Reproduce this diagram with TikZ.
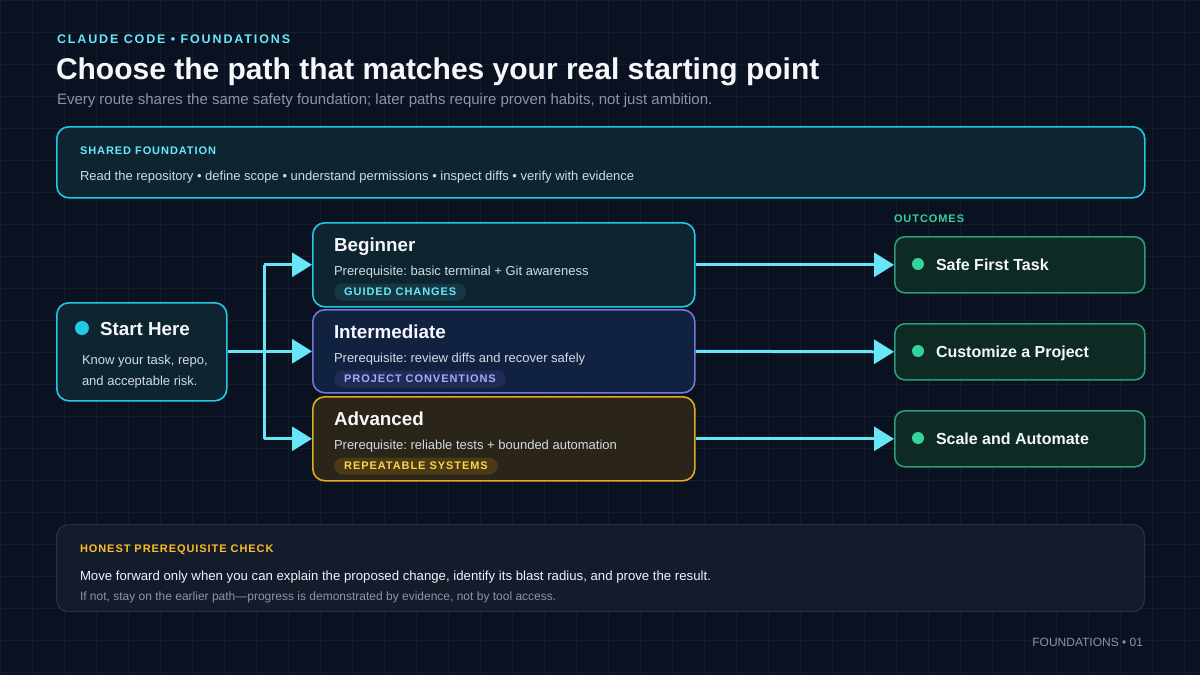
\documentclass[tikz,border=0pt]{standalone}
\usepackage{fontspec}
\setmainfont{Liberation Sans}
\newfontfamily\lsfont[LetterSpace=8.5]{Liberation Sans}
\newfontfamily\kickfont[LetterSpace=15]{Liberation Sans}
\usetikzlibrary{arrows.meta}
\frenchspacing
\definecolor{bg}{HTML}{0A1120}
\definecolor{gridc}{HTML}{141D2C}
\definecolor{cyantext}{HTML}{67E8F9}
\definecolor{cyanborder}{HTML}{22C9E2}
\definecolor{arrowc}{HTML}{67E6F8}
\definecolor{cyanfill}{HTML}{0E2431}
\definecolor{indigoborder}{HTML}{7078DC}
\definecolor{indigofill}{HTML}{112240}
\definecolor{indigopill}{HTML}{222B58}
\definecolor{indigotext}{HTML}{A5ACF7}
\definecolor{amberborder}{HTML}{E3AA22}
\definecolor{amberfill}{HTML}{2B2419}
\definecolor{amberpill}{HTML}{4A3B16}
\definecolor{ambertext}{HTML}{FCD34D}
\definecolor{amberlabel}{HTML}{FBBF24}
\definecolor{cyanpill}{HTML}{163844}
\definecolor{greenborder}{HTML}{2A9D74}
\definecolor{greenfill}{HTML}{0D2A25}
\definecolor{greendot}{HTML}{34D399}
\definecolor{whitetext}{HTML}{F5F7FA}
\definecolor{bodytext}{HTML}{D3DAE3}
\definecolor{greytext}{HTML}{8A96A8}
\definecolor{checkfill}{HTML}{141B2A}
\definecolor{checkborder}{HTML}{263144}
\tikzset{
  box/.style={draw, line width=1.6pt, rounded corners=12pt, anchor=north west, inner sep=0pt},
  txt/.style={anchor=base west, inner sep=0pt, outer sep=0pt},
  body/.style={txt, text=bodytext, font=\fontsize{13}{15}\selectfont},
  head/.style={txt, text=whitetext, font=\fontsize{18.8}{22}\selectfont\bfseries},
  outtxt/.style={txt, text=whitetext, font=\fontsize{16}{18}\selectfont\bfseries},
  lbl/.style={txt, font=\fontsize{11}{13}\lsfont\bfseries},
  pill/.style={anchor=west, rounded corners=8.5pt, inner xsep=10pt, minimum height=17pt, inner ysep=0pt, font=\fontsize{11}{13}\lsfont\bfseries},
  dot/.style={circle, inner sep=0pt, minimum size=#1},
  cline/.style={draw=arrowc, line width=3pt},
  conn/.style={cline, -{Triangle[length=20pt,width=24pt]}},
}
\begin{document}
\begin{tikzpicture}[x=1pt,y=-1pt]
\fill[bg] (0,0) rectangle (1200,675);
\useasboundingbox (0,0) rectangle (1200,675);
\foreach \x in {0,32,...,1199} \draw[gridc, line width=0.8pt] (\x,0) -- (\x,675);
\foreach \y in {0,32,...,674} \draw[gridc, line width=0.8pt] (0,\y) -- (1200,\y);

% header
\node[txt, text=cyantext, font=\fontsize{12.5}{14}\kickfont\bfseries] (kicker) at (57,43) {CLAUDE CODE • FOUNDATIONS};
\node[txt, text=whitetext, font=\fontsize{30}{34}\selectfont\bfseries] (title) at (56,79) {Choose the path that matches your real starting point};
\node[txt, text=greytext, font=\fontsize{15}{17}\selectfont] (subtitle) at (57,104) {Every route shares the same safety foundation; later paths require proven habits, not just ambition.};

% shared foundation
\node[box, draw=cyanborder, fill=cyanfill, minimum width=1088pt, minimum height=71pt] (shared) at (56,126) {};
\node[lbl, text=cyantext] (sharedlbl) at (80,154) {SHARED FOUNDATION};
\node[body] (sharedtxt) at (80,180) {Read the repository • define scope • understand permissions • inspect diffs • verify with evidence};

% start
\node[box, draw=cyanborder, fill=cyanfill, minimum width=170pt, minimum height=98pt] (start) at (56,302) {};
\node[dot=14pt, fill=cyanborder] (startdot) at (82,328) {};
\node[head] (starthead) at (100,335) {Start Here};
\node[body] (startl1) at (82,364) {Know your task, repo,};
\node[body] (startl2) at (82,385) {and acceptable risk.};

% paths
\node[box, draw=cyanborder, fill=cyanfill, minimum width=382pt, minimum height=84pt] (beg) at (312,222) {};
\node[head] (beghead) at (334,251) {Beginner};
\node[body] (begtxt) at (334,275) {Prerequisite: basic terminal + Git awareness};
\node[pill, fill=cyanpill, text=cyantext] (begpill) at (334,292) {GUIDED CHANGES\hspace{-9pt}};

\node[box, draw=indigoborder, fill=indigofill, minimum width=382pt, minimum height=83pt] (int) at (312,309) {};
\node[head] (inthead) at (334,338) {Intermediate};
\node[body] (inttxt) at (334,362) {Prerequisite: review diffs and recover safely};
\node[pill, fill=indigopill, text=indigotext] (intpill) at (334,379) {PROJECT CONVENTIONS\hspace{-9pt}};

\node[box, draw=amberborder, fill=amberfill, minimum width=382pt, minimum height=84pt] (adv) at (312,396) {};
\node[head] (advhead) at (334,425) {Advanced};
\node[body] (advtxt) at (334,449) {Prerequisite: reliable tests + bounded automation};
\node[pill, fill=amberpill, text=ambertext] (advpill) at (334,466) {REPEATABLE SYSTEMS\hspace{-9pt}};

% outcomes
\node[lbl, text=greendot] (outlbl) at (894,222) {OUTCOMES};
\node[box, draw=greenborder, fill=greenfill, minimum width=250pt, minimum height=56pt, rounded corners=10pt] (o1) at (894,236) {};
\node[dot=12pt, fill=greendot] (o1dot) at (918,264) {};
\node[outtxt] (o1txt) at (936,270) {Safe First Task};
\node[box, draw=greenborder, fill=greenfill, minimum width=250pt, minimum height=56pt, rounded corners=10pt] (o2) at (894,323) {};
\node[dot=12pt, fill=greendot] (o2dot) at (918,351) {};
\node[outtxt] (o2txt) at (936,357) {Customize a Project};
\node[box, draw=greenborder, fill=greenfill, minimum width=250pt, minimum height=56pt, rounded corners=10pt] (o3) at (894,410) {};
\node[dot=12pt, fill=greendot] (o3dot) at (918,438) {};
\node[outtxt] (o3txt) at (936,444) {Scale and Automate};

% connectors
\coordinate (j) at (264,0);
\draw[cline] (beg.west -| j) -- (adv.west -| j);
\draw[cline] (start.east) -- (j |- start.east);
\draw[conn] (beg.west -| j) -- (beg.west);
\draw[conn] (j |- int.west) -- (int.west);
\draw[conn] (adv.west -| j) -- (adv.west);
\draw[conn] (beg.east) -- (o1.west);
\draw[conn] (int.east) -- (o2.west);
\draw[conn] (adv.east) -- (o3.west);

% check
\node[box, draw=checkborder, fill=checkfill, line width=1.2pt, minimum width=1088pt, minimum height=87pt] (check) at (56,524) {};
\node[lbl, text=amberlabel] (checklbl) at (80,552) {HONEST PREREQUISITE CHECK};
\node[body, text=whitetext!90!bodytext, font=\fontsize{13.2}{15}\selectfont] (checkl1) at (80,580) {Move forward only when you can explain the proposed change, identify its blast radius, and prove the result.};
\node[txt, text=greytext, font=\fontsize{12}{14}\selectfont] (checkl2) at (80,600) {If not, stay on the earlier path—progress is demonstrated by evidence, not by tool access.};

% footer
\node[txt, anchor=base east, text=greytext, font=\fontsize{12}{14}\selectfont] (footer) at (1143,646) {FOUNDATIONS • 01};
\end{tikzpicture}
\end{document}
